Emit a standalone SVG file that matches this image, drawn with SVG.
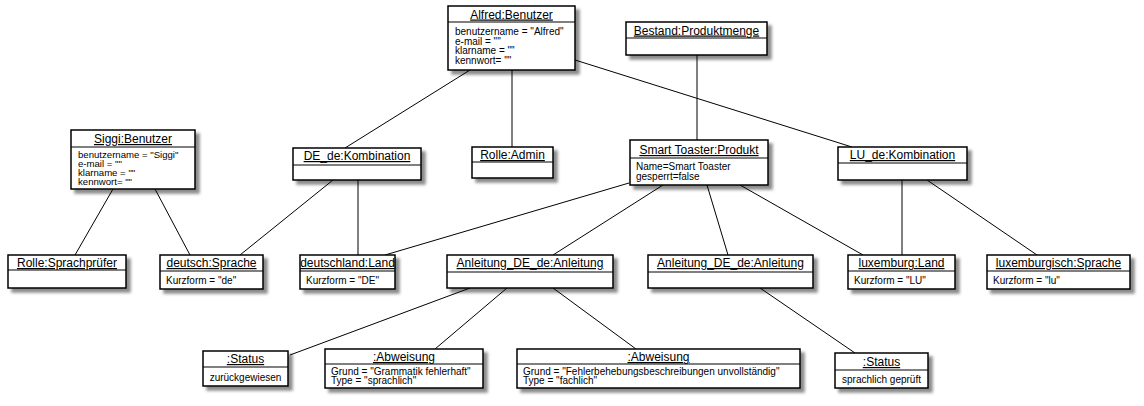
<svg xmlns="http://www.w3.org/2000/svg" width="1144" height="406" viewBox="0 0 1144 406">
<style>
.box{fill:#fff;stroke:#000;stroke-width:1.5;filter:url(#sh)}
.div{stroke:#000;stroke-width:1.2}
.t{font-family:"Liberation Sans",Arial,sans-serif;font-size:12px;text-anchor:middle;text-decoration:underline;fill:#000}
.a{font-family:"Liberation Sans",Arial,sans-serif;font-size:10px;fill:#000}
.as{font-family:"Liberation Sans",Arial,sans-serif;font-size:9.6px;fill:#000}
.ac{font-family:"Liberation Sans",Arial,sans-serif;font-size:10px;fill:#000;text-anchor:middle}
.c line{stroke:#000;stroke-width:1}
</style>
<defs>
<filter id="sh" x="-10%" y="-10%" width="130%" height="140%">
<feDropShadow dx="4" dy="4" stdDeviation="1.8" flood-color="#000" flood-opacity="0.45"/>
</filter>
</defs>
<rect width="1144" height="406" fill="#fff"/>
<g class="c" id="connectors">
<line x1="470" y1="70" x2="345" y2="148"/>
<line x1="512" y1="70" x2="512" y2="147"/>
<line x1="575" y1="60" x2="852" y2="147"/>
<line x1="697" y1="55" x2="697" y2="140"/>
<line x1="113" y1="189" x2="75" y2="255"/>
<line x1="155" y1="189" x2="190" y2="255"/>
<line x1="333" y1="180" x2="240" y2="255"/>
<line x1="358" y1="180" x2="358" y2="255"/>
<line x1="629" y1="183" x2="385" y2="255"/>
<line x1="663" y1="185" x2="553" y2="255"/>
<line x1="707" y1="185" x2="728" y2="255"/>
<line x1="740" y1="185" x2="863" y2="255"/>
<line x1="902" y1="180" x2="902" y2="255"/>
<line x1="927" y1="180" x2="1037" y2="255"/>
<line x1="470" y1="288" x2="290" y2="355"/>
<line x1="507" y1="288" x2="435" y2="349"/>
<line x1="553" y1="288" x2="636" y2="349"/>
<line x1="760" y1="288" x2="855" y2="353"/>
</g>
<g id="alfred">
<rect class="box" x="448" y="6" width="127" height="64"/>
<line class="div" x1="448" y1="22" x2="575" y2="22"/>
<text class="t" x="511.5" y="18.5">Alfred:Benutzer</text>
<text class="a" x="455" y="35">benutzername = "Alfred"</text>
<text class="a" x="455" y="44.5">e-mail = ""</text>
<text class="a" x="455" y="54">klarname = ""</text>
<text class="a" x="455" y="63.5">kennwort= ""</text>
</g>
<g id="bestand">
<rect class="box" x="626" y="22" width="141" height="33"/>
<line class="div" x1="626" y1="38" x2="767" y2="38"/>
<text class="t" x="696.5" y="34.5">Bestand:Produktmenge</text>
</g>
<g id="siggi">
<rect class="box" x="71" y="130" width="124" height="59"/>
<line class="div" x1="71" y1="147" x2="195" y2="147"/>
<text class="t" x="133" y="143">Siggi:Benutzer</text>
<text class="as" x="78" y="157.5">benutzername = "Siggi"</text>
<text class="as" x="78" y="166.5">e-mail = ""</text>
<text class="as" x="78" y="175.5">klarname = ""</text>
<text class="as" x="78" y="184.5">kennwort= ""</text>
</g>
<g id="de_de">
<rect class="box" x="293" y="148" width="128" height="32"/>
<line class="div" x1="293" y1="165" x2="421" y2="165"/>
<text class="t" x="357" y="160">DE_de:Kombination</text>
</g>
<g id="admin">
<rect class="box" x="472" y="147" width="81" height="31"/>
<line class="div" x1="472" y1="162" x2="553" y2="162"/>
<text class="t" x="512.5" y="159">Rolle:Admin</text>
</g>
<g id="toaster">
<rect class="box" x="630" y="140" width="138" height="45"/>
<line class="div" x1="630" y1="158" x2="768" y2="158"/>
<text class="t" x="699" y="154">Smart Toaster:Produkt</text>
<text class="a" x="636" y="170">Name=Smart Toaster</text>
<text class="a" x="636" y="180">gesperrt=false</text>
</g>
<g id="lu_de">
<rect class="box" x="838" y="147" width="129" height="33"/>
<line class="div" x1="838" y1="163" x2="967" y2="163"/>
<text class="t" x="902.5" y="159">LU_de:Kombination</text>
</g>
<g id="sprachpruefer">
<rect class="box" x="8" y="255" width="118" height="33"/>
<line class="div" x1="8" y1="270" x2="126" y2="270"/>
<text class="t" x="67" y="267">Rolle:Sprachprüfer</text>
</g>
<g id="deutsch">
<rect class="box" x="160" y="255" width="103" height="34"/>
<line class="div" x1="160" y1="271" x2="263" y2="271"/>
<text class="t" x="211.5" y="267">deutsch:Sprache</text>
<text class="a" x="166" y="284">Kurzform = "de"</text>
</g>
<g id="deutschland">
<rect class="box" x="300" y="255" width="95" height="34"/>
<line class="div" x1="300" y1="271" x2="395" y2="271"/>
<text class="t" x="347.5" y="267">deutschland:Land</text>
<text class="a" x="306" y="284">Kurzform = "DE"</text>
</g>
<g id="anleitung1">
<rect class="box" x="447" y="255" width="166" height="33"/>
<line class="div" x1="447" y1="272" x2="613" y2="272"/>
<text class="t" x="530" y="267">Anleitung_DE_de:Anleitung</text>
</g>
<g id="anleitung2">
<rect class="box" x="648" y="255" width="165" height="33"/>
<line class="div" x1="648" y1="272" x2="813" y2="272"/>
<text class="t" x="730.5" y="267">Anleitung_DE_de:Anleitung</text>
</g>
<g id="luxemburg">
<rect class="box" x="848" y="255" width="107" height="34"/>
<line class="div" x1="848" y1="271" x2="955" y2="271"/>
<text class="t" x="901.5" y="267">luxemburg:Land</text>
<text class="a" x="854" y="284">Kurzform = "LU"</text>
</g>
<g id="luxemburgisch">
<rect class="box" x="987" y="255" width="143" height="34"/>
<line class="div" x1="987" y1="271" x2="1130" y2="271"/>
<text class="t" x="1058.5" y="267">luxemburgisch:Sprache</text>
<text class="a" x="993" y="284">Kurzform = "lu"</text>
</g>
<g id="status1">
<rect class="box" x="203" y="351" width="85" height="35"/>
<line class="div" x1="203" y1="367" x2="288" y2="367"/>
<text class="t" x="245.5" y="363">:Status</text>
<text class="ac" x="245.5" y="381">zurückgewiesen</text>
</g>
<g id="abweisung1">
<rect class="box" x="325" y="349" width="158" height="39"/>
<line class="div" x1="325" y1="364" x2="483" y2="364"/>
<text class="t" x="404" y="361">:Abweisung</text>
<text class="a" x="331" y="375">Grund = "Grammatik fehlerhaft"</text>
<text class="a" x="331" y="384">Type = "sprachlich"</text>
</g>
<g id="abweisung2">
<rect class="box" x="517" y="349" width="283" height="39"/>
<line class="div" x1="517" y1="364" x2="800" y2="364"/>
<text class="t" x="658.5" y="361">:Abweisung</text>
<text class="a" x="523" y="375">Grund = "Fehlerbehebungsbeschreibungen unvollständig"</text>
<text class="a" x="523" y="384">Type = "fachlich"</text>
</g>
<g id="status2">
<rect class="box" x="835" y="353" width="93" height="35"/>
<line class="div" x1="835" y1="370" x2="928" y2="370"/>
<text class="t" x="881.5" y="366">:Status</text>
<text class="ac" x="881.5" y="383">sprachlich geprüft</text>
</g>
</svg>
